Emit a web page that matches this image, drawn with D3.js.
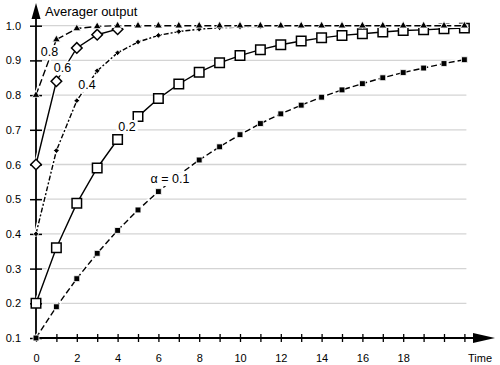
<!DOCTYPE html>
<html>
<head>
<meta charset="utf-8">
<script src="https://cdn.jsdelivr.net/npm/d3@7"></script>
<style>
  body { margin: 0; background: #fff; }
  svg text { font-family: "Liberation Sans", Arial, sans-serif; fill: #000; }
  .grid line { stroke: #d4d4d4; stroke-width: 1.3; }
</style>
</head>
<body>
<svg id="chart"></svg>
<script>
// Time steps 0..21
const time = [0,1,2,3,4,5,6,7,8,9,10,11,12,13,14,15,16,17,18,19,20,21];

// Averager output, one array per alpha
const alpha01 = [0.100,0.190,0.271,0.344,0.410,0.469,0.522,0.570,0.613,0.651,0.686,0.718,0.746,0.771,0.794,0.815,0.833,0.850,0.865,0.878,0.891,0.902];
const alpha02 = [0.200,0.360,0.488,0.590,0.672,0.738,0.790,0.832,0.866,0.893,0.914,0.931,0.945,0.956,0.965,0.972,0.977,0.982,0.986,0.988,0.991,0.993];
const alpha04 = [0.400,0.640,0.784,0.870,0.922,0.953,0.972,0.983,0.990,0.994,0.996,0.998,0.999,0.999,1.000,1.000,1.000,1.000,1.000,1.000,1.000,1.000];
const alpha06 = [0.600,0.840,0.936,0.974,0.990];
const alpha08 = [0.800,0.960,0.992,0.998,1.000,1.000,1.000,1.000,1.000,1.000,1.000,1.000,1.000,1.000,1.000,1.000,1.000,1.000,1.000,1.000,1.000,1.000];

const yTicks = [0.1,0.2,0.3,0.4,0.5,0.6,0.7,0.8,0.9,1.0];
const xLabels = [0,2,4,6,8,10,12,14,16,18];

const series = [
  {name: "α = 0.1", values: alpha01, dash: "6,3", marker: "fsquare"},
  {name: "0.2", values: alpha02, dash: null, marker: "osquare"},
  {name: "0.6", values: alpha06, dash: null, marker: "odiamond"},
  {name: "0.4", values: alpha04, dash: "5,2,2,2", marker: "fdiamond"},
  {name: "0.8", values: alpha08, dash: "7,3", marker: "triangle"}
];

// label centres (in data units) for each alpha
const labelAt = {
  "0.8": [0.66, 0.924], "0.6": [1.3, 0.877], "0.4": [2.5, 0.829], "0.2": [4.46, 0.708], "α = 0.1": [6.57, 0.558]
};

const width = 500, height = 365;
const svg = d3.select("#chart").attr("width", width).attr("height", height);

const x = d3.scaleLinear().domain([0, 21]).range([36, 464.4]);
const y = d3.scaleLinear().domain([0.1, 1.0]).range([338, 25.7]);

// gridlines
svg.append("g").attr("class", "grid")
  .selectAll("line").data(yTicks.slice(1)).join("line")
  .attr("x1", x(0)).attr("x2", x(21) + 2)
  .attr("y1", d => y(d)).attr("y2", d => y(d));

// axes
const yAxis = d3.axisLeft(y).tickValues(yTicks).tickFormat(d3.format(".1f")).tickSize(6);
const yG = svg.append("g").attr("transform", `translate(${x(0)},0)`).call(yAxis);
yG.select(".domain").remove();
yG.selectAll(".tick line").attr("x1", -6).attr("x2", 6).attr("stroke", "#000").attr("stroke-width", 1.5);
yG.selectAll(".tick text").attr("font-size", 11).attr("x", -15);

const xAxis = d3.axisBottom(x).tickValues(time)
  .tickFormat(d => xLabels.includes(d) ? d : "").tickSize(4).tickPadding(12);
const xG = svg.append("g").attr("transform", `translate(0,${y(0.1)})`).call(xAxis);
xG.select(".domain").remove();
xG.selectAll(".tick line").attr("y1", -4).attr("y2", 4).attr("stroke", "#000").attr("stroke-width", 1.3);
xG.selectAll(".tick text").attr("font-size", 11);

// axis lines with arrows
svg.append("line").attr("x1", x(0)).attr("x2", x(0)).attr("y1", y(0.1) + 2).attr("y2", 16)
  .attr("stroke", "#000").attr("stroke-width", 1.8);
svg.append("path").attr("d", `M${x(0)},3 L${x(0) - 4.5},19 L${x(0) + 4.5},19 Z`).attr("fill", "#000");
svg.append("line").attr("x1", x(0) - 2).attr("x2", 476).attr("y1", y(0.1)).attr("y2", y(0.1))
  .attr("stroke", "#000").attr("stroke-width", 1.8);
svg.append("path").attr("d", `M495,${y(0.1)} L473,${y(0.1) - 5} L473,${y(0.1) + 5} Z`).attr("fill", "#000");

svg.append("text").attr("x", 45).attr("y", 16).attr("font-size", 13).text("Averager output");
svg.append("text").attr("x", 468).attr("y", 362).attr("font-size", 11).text("Time");

// series
const markerPath = {
  fsquare: d3.symbol(d3.symbolSquare, 34)(),
  osquare: d3.symbol(d3.symbolSquare, 90)(),
  odiamond: d3.symbol(d3.symbolSquare, 56)(),
  fdiamond: d3.symbol(d3.symbolSquare, 16)(),
  triangle: d3.symbol(d3.symbolTriangle, 26)()
};

series.forEach(s => {
  const pts = s.values.map((v, i) => [time[i], v]);
  const line = d3.line().x(d => x(d[0])).y(d => y(d[1]));
  const g = svg.append("g");
  g.append("path").attr("d", line(pts)).attr("fill", "none")
    .attr("stroke", "#fff").attr("stroke-width", 4);
  g.append("path").attr("d", line(pts)).attr("fill", "none")
    .attr("stroke", "#000").attr("stroke-width", 1.4)
    .attr("stroke-dasharray", s.dash);
  const open = s.marker === "osquare" || s.marker === "odiamond";
  const rot = (s.marker === "odiamond" || s.marker === "fdiamond") ? " rotate(45)" : "";
  g.selectAll("path.m").data(pts).join("path").attr("class", "m")
    .attr("d", markerPath[s.marker])
    .attr("transform", d => `translate(${x(d[0])},${y(d[1])})${rot}`)
    .attr("fill", open ? "#fff" : "#000")
    .attr("stroke", open ? "#000" : "#fff")
    .attr("stroke-width", open ? 1.5 : 0.8);
});

// alpha labels on white boxes
series.forEach(s => {
  const p = labelAt[s.name];
  const g = svg.append("g");
  const t = g.append("text").attr("x", x(p[0])).attr("y", y(p[1]))
    .attr("text-anchor", "middle").attr("dominant-baseline", "central")
    .attr("font-size", 12.5).text(s.name);
  const b = t.node().getBBox();
  g.insert("rect", "text").attr("x", b.x - 2).attr("y", b.y).attr("width", b.width + 4)
    .attr("height", b.height).attr("fill", "#fff");
});
</script>
</body>
</html>
